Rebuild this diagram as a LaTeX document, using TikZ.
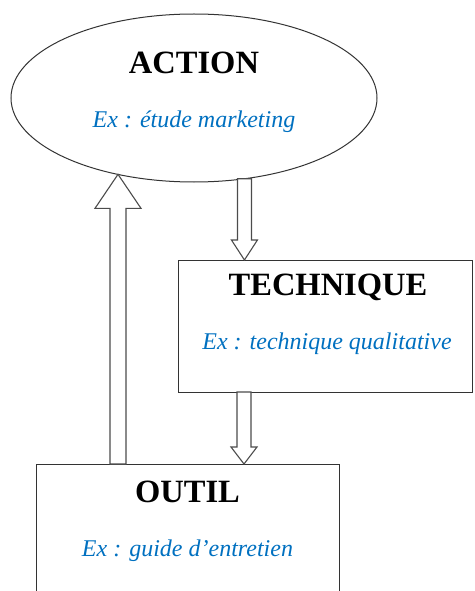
\documentclass[tikz,border=0pt]{standalone}
\usepackage{fontspec}
\setmainfont{Liberation Serif}
\usetikzlibrary{calc,positioning,shapes.geometric}
\definecolor{exblue}{RGB}{0,112,192}
\tikzset{
  boxnode/.style  = {shape=rectangle, draw=black!80, line width=1pt,
                     outer sep=0pt, inner sep=0pt},
  ellnode/.style  = {boxnode, shape=ellipse},
  title/.style    = {anchor=base, font=\fontsize{32.5}{36}\selectfont\bfseries},
  example/.style  = {anchor=base, text=exblue,
                     font=\fontsize{24}{28}\selectfont\itshape},
  blockarr/.style = {draw=black!70, fill=white, line width=1.1pt,
                     line join=miter}
}
% #1 shaft half width, #2 head half width, #3 head length, #4 tail, #5 tip
\newcommand{\blockarrow}[5]{%
  \draw[blockarr] let \p1=(#4), \p2=(#5), \n1={ifthenelse(\y2>\y1,1,-1)} in
    (\x1-#1,\y1) -- (\x1-#1,\y2-\n1*#3) -- (\x1-#2,\y2-\n1*#3) -- (\x1,\y2)
    -- (\x1+#2,\y2-\n1*#3) -- (\x1+#1,\y2-\n1*#3) -- (\x1+#1,\y1) -- cycle;}

\begin{document}
\begin{tikzpicture}[x=1pt,y=-1pt]
\path[use as bounding box,clip] (0,0) rectangle (474,591);

\node [ellnode, minimum width=366pt, minimum height=168pt] (action) at (194,98) {};
\node [boxnode, minimum width=294pt, minimum height=132pt] (technique) at (325,326) {};
\node [boxnode, minimum width=303pt, minimum height=176pt] (outil) at (187.5,552) {};

\node [title]   (actiontitle) at ([yshift=24pt]action.center) {ACTION};
\node [example] (actionex)    at ([yshift=-30pt]action.center) {Ex : étude marketing};
\node [title]   (techtitle)   at ([xshift=3pt,yshift=-35pt]technique.north) {TECHNIQUE};
\node [example] (techex)      at ([xshift=2pt,yshift=-89pt]technique.north) {Ex : technique qualitative};
\node [title]   (outiltitle)  at ([yshift=-38pt]outil.north) {OUTIL};
\node [example] (outilex)     at ([yshift=-92pt]outil.north) {Ex : guide d'entretien};

\coordinate (upx) at (118,0);
\coordinate (dnx) at (244,0);

\blockarrow{8pt}{23pt}{34pt}{outil.north -| upx}{action.225}
\blockarrow{7pt}{13pt}{20pt}{action.302}{technique.north -| dnx}
\blockarrow{7pt}{13pt}{17pt}{technique.south -| dnx}{outil.north -| dnx}
\end{tikzpicture}
\end{document}
